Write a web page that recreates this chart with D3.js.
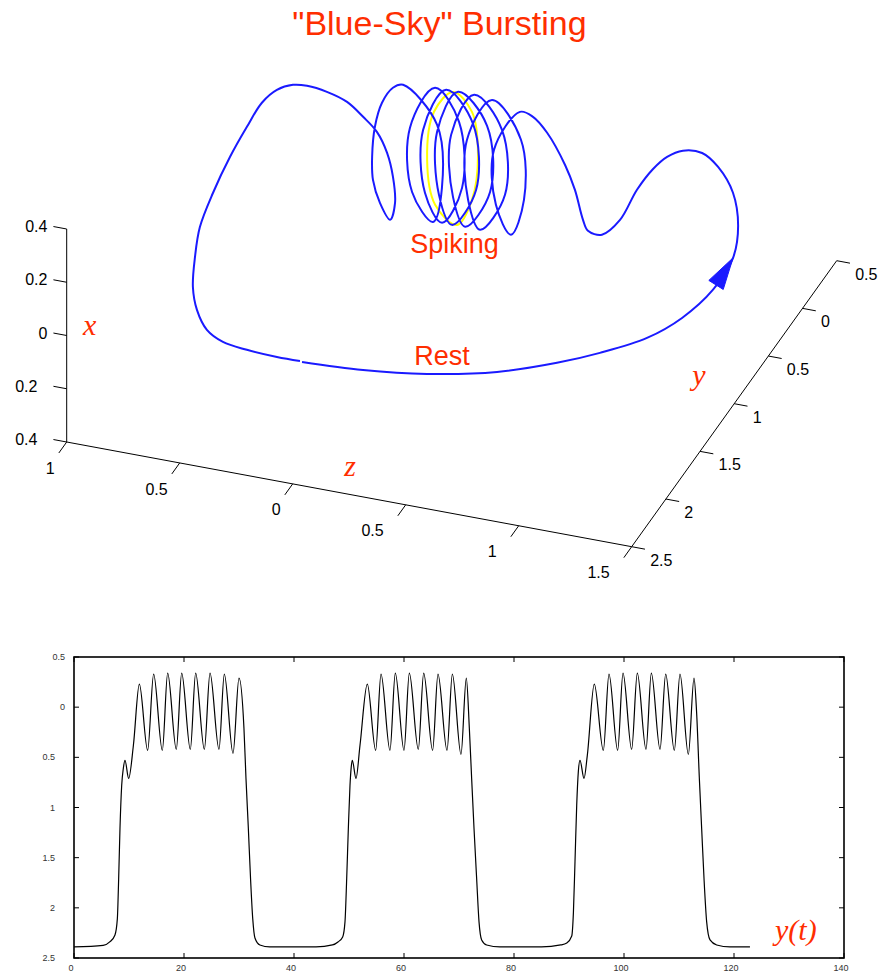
<!DOCTYPE html>
<html>
<head>
<meta charset="utf-8">
<script src="https://cdn.jsdelivr.net/npm/d3@7"></script>
<style>
  html, body { margin: 0; padding: 0; background: #fff; }
  svg { display: block; }
</style>
</head>
<body>
<svg id="chart" width="882" height="975"></svg>
<script>
// ---------------------------------------------------------------
// Data
// ---------------------------------------------------------------
const titleText = '"Blue-Sky" Bursting';

// One full burst cycle of the orbit in phase space, [x, y, z]
const orbit = [
  // quiescent branch, slow drift
  [0.020, -2.39, -0.008],
  [0.032, -2.39, -0.278],
  [0.062, -2.39, -0.561],
  [0.118, -2.39, -0.871],
  [0.190, -2.38, -1.133],
  [0.241, -2.34, -1.311],
  [0.273, -2.20, -1.477],
  // jump towards the spiking region
  [0.190, -1.75, -1.496],
  [0.135, -1.30, -1.497],
  [0.147, -1.00, -1.495],
  [0.210, -0.85, -1.472],
  [0.290, -0.75, -1.419],
  [0.336, -0.65, -1.323],
  [0.349, -0.58, -1.231],
  [0.324, -0.53, -1.131],
  [0.298, -0.55, -1.067],
  [0.263, -0.60, -1.020],
  [0.194, -0.65, -0.964],
  [0.089, -0.70, -0.904],
  [0.025, -0.71, -0.827],
  [0.018, -0.68, -0.756],
  [0.023, -0.60, -0.710],
  [0.069, -0.45, -0.629],
  [0.095, -0.30, -0.540],
  [0.102, -0.05, -0.385],
  [0.071, 0.15, -0.262],
  // spiking turns
  [0.048, 0.23, -0.180],
  [-0.019, 0.00, -0.135],
  [-0.103, -0.30, -0.234],
  [-0.156, -0.42, -0.337],
  [-0.085, -0.25, -0.343],
  [0.017, 0.05, -0.239],
  [0.033, 0.33, -0.026],
  [-0.001, 0.00, -0.015],
  [-0.104, -0.30, -0.111],
  [-0.159, -0.42, -0.200],
  [-0.079, -0.25, -0.259],
  [0.041, 0.05, -0.155],
  [0.040, 0.33, 0.053],
  [0.007, 0.00, 0.055],
  [-0.103, -0.30, -0.044],
  [-0.158, -0.42, -0.134],
  [-0.079, -0.25, -0.193],
  [0.046, 0.05, -0.089],
  [0.040, 0.33, 0.124],
  [0.009, 0.00, 0.117],
  [-0.105, -0.30, 0.018],
  [-0.160, -0.42, -0.076],
  [-0.081, -0.25, -0.131],
  [0.043, 0.05, -0.027],
  [0.039, 0.33, 0.177],
  [0.006, 0.00, 0.179],
  [-0.107, -0.30, 0.080],
  [-0.159, -0.42, -0.032],
  [-0.083, -0.25, -0.069],
  [0.041, 0.05, 0.035],
  [0.039, 0.33, 0.226],
  [0.005, 0.00, 0.237],
  [-0.113, -0.30, 0.137],
  [-0.150, -0.45, -0.001],
  [-0.097, -0.25, 0.020],
  [0.015, 0.05, 0.132],
  [0.044, 0.29, 0.355],
  [0.042, 0.25, 0.388],
  [0.039, 0.10, 0.391],
  [0.005, -0.05, 0.377],
  [-0.050, -0.20, 0.344],
  [-0.095, -0.30, 0.310],
  [-0.144, -0.38, 0.255],
  [-0.172, -0.45, 0.189],
  // fall back to the quiescent branch
  [-0.085, -0.50, 0.152],
  [0.020, -0.52, 0.155],
  [0.118, -0.55, 0.172],
  [0.202, -0.58, 0.208],
  [0.257, -0.60, 0.263],
  [0.314, -0.63, 0.325],
  [0.350, -0.66, 0.405],
  [0.375, -0.70, 0.481],
  [0.385, -0.74, 0.531],
  [0.379, -0.80, 0.584],
  [0.361, -0.90, 0.620],
  [0.321, -1.05, 0.641],
  [0.298, -1.30, 0.640],
  [0.272, -1.60, 0.625],
  [0.277, -1.95, 0.577],
  [0.263, -2.20, 0.523],
  [0.201, -2.33, 0.493],
  [0.134, -2.37, 0.463],
  [0.070, -2.38, 0.416],
  [0.040, -2.39, 0.342],
  [0.027, -2.39, 0.236],
  [0.021, -2.39, 0.103],
  [0.022, -2.39, 0.001]
];

// Saddle periodic orbit inside the spiking region, [x, y, z]
const spikingCycle = [
  [0.048, 0.30, 0.137],
  [0.047, 0.15, 0.008],
  [-0.029, -0.05, -0.079],
  [-0.101, -0.30, -0.128],
  [-0.157, -0.42, -0.098],
  [-0.145, -0.30, 0.035],
  [-0.083, -0.05, 0.146],
  [0.021, 0.15, 0.176]
];

// 3D box ranges and ticks
const xRange3d = [-0.4, 0.4];
const yRange3d = [-2.5, 0.5];
const zRange3d = [1, -1.5];
const xTicks3d = [0.4, 0.2, 0, -0.2, -0.4];
const xTickLabels3d = ["0.4", "0.2", "0", "0.2", "0.4"];
const zTicks3d = [1, 0.5, 0, -0.5, -1, -1.5];
const zTickLabels3d = ["1", "0.5", "0", "0.5", "1", "1.5"];
const yTicks3d = [0.5, 0, -0.5, -1, -1.5, -2, -2.5];
const yTickLabels3d = ["0.5", "0", "0.5", "1", "1.5", "2", "2.5"];

// Time series y(t): three bursts, [t, y]
const burst1 = [
  [0, -2.39], [5.3, -2.375], [6.5, -2.34], [7.45, -2.27], [7.88, -2.11],
  [8.12, -1.71], [8.36, -1.21], [8.67, -0.78], [8.97, -0.61], [9.27, -0.53],
  [9.94, -0.71], [10.8, -0.38], [11.88, 0.23], [13.39, -0.43], [14.48, 0.33],
  [16.06, -0.43], [17.03, 0.34], [18.6, -0.42], [19.58, 0.34], [21.15, -0.42],
  [22.12, 0.34], [23.7, -0.42], [24.73, 0.34], [26.36, -0.42], [27.33, 0.33],
  [28.91, -0.46], [30.0, 0.29], [30.9, -0.21], [31.27, -0.71], [31.7, -1.21],
  [32.1, -1.71], [32.5, -2.11], [32.9, -2.30], [33.8, -2.37], [35.6, -2.39]
];
const burst2 = [
  [44, -2.39], [47.0, -2.37], [48.0, -2.34], [48.85, -2.29], [49.27, -2.14],
  [49.58, -1.71], [49.88, -1.21], [50.18, -0.78], [50.4, -0.60], [50.6, -0.53],
  [51.27, -0.71], [52.0, -0.38], [53.33, 0.23], [54.85, -0.43], [55.82, 0.33],
  [57.45, -0.43], [58.42, 0.34], [60.0, -0.43], [60.97, 0.34], [62.6, -0.42],
  [63.58, 0.34], [65.2, -0.43], [66.18, 0.33], [67.82, -0.43], [68.79, 0.33],
  [70.36, -0.47], [71.33, 0.29], [71.88, -0.21], [72.3, -0.71], [72.73, -1.21],
  [73.21, -1.71], [73.64, -2.14], [74.12, -2.32], [75.03, -2.37], [77.45, -2.39]
];
const burst3 = [
  [85, -2.39], [88.5, -2.37], [89.6, -2.35], [90.5, -2.28], [90.8, -2.05],
  [91.09, -1.54], [91.4, -0.98], [91.7, -0.64], [92.0, -0.53], [92.73, -0.71],
  [93.33, -0.48], [94.6, 0.23], [96.24, -0.43], [97.27, 0.33], [98.85, -0.43],
  [99.82, 0.34], [101.39, -0.42], [102.42, 0.34], [104.0, -0.42], [104.97, 0.34],
  [106.55, -0.42], [107.58, 0.33], [109.15, -0.43], [110.18, 0.33], [111.7, -0.47],
  [112.73, 0.29], [113.2, -0.05], [113.7, -0.71], [114.12, -1.21], [114.55, -1.71],
  [115.03, -2.14], [115.64, -2.32], [116.85, -2.37], [119.27, -2.39], [122.9, -2.39]
];

const tDomain = [0, 140];
const yDomain = [-2.5, 0.5];
const tTicks = [0, 20, 40, 60, 80, 100, 120, 140];
const tTickLabels = ["0", "20", "40", "60", "80", "100", "120", "140"];
const yTicks = [0.5, 0, -0.5, -1, -1.5, -2, -2.5];
const yTickLabels = ["0.5", "0", "0.5", "1", "1.5", "2", "2.5"];

// ---------------------------------------------------------------
// Styles
// ---------------------------------------------------------------
const RED = "#ff2e00";
const BLUE = "#1a1aff";
const SANS = "'Liberation Sans', Arial, Helvetica, sans-serif";
const SERIF = "'Liberation Serif', 'Times New Roman', serif";

const svg = d3.select("#chart");

svg.append("text")
  .attr("x", 439.5).attr("y", 35)
  .attr("text-anchor", "middle")
  .attr("font-family", SANS).attr("font-size", 34)
  .attr("fill", RED)
  .text(titleText);

// ---------------------------------------------------------------
// 3D phase portrait (oblique projection of the axis box)
// ---------------------------------------------------------------
const corner = [66.7, 442];            // screen point of (xmin, ymin, zmax)
const edgeX = [0, -213];               // screen vector along x box edge
const edgeY = [205, -286];             // along y box edge
const edgeZ = [565, 104.7];            // along z box edge

const fx = d3.scaleLinear().domain(xRange3d).range([0, 1]);
const fy = d3.scaleLinear().domain(yRange3d).range([0, 1]);
const fz = d3.scaleLinear().domain(zRange3d).range([0, 1]);

function project(p) {
  const a = fx(p[0]), b = fy(p[1]), c = fz(p[2]);
  return [
    corner[0] + a * edgeX[0] + b * edgeY[0] + c * edgeZ[0],
    corner[1] + a * edgeX[1] + b * edgeY[1] + c * edgeZ[1]
  ];
}
function unit(v) { const l = Math.hypot(v[0], v[1]); return [v[0] / l, v[1] / l]; }

const g3 = svg.append("g");
const xMin = xRange3d[0], yMin = yRange3d[0], yMax = yRange3d[1];
const zNear = zRange3d[0], zFar = zRange3d[1];

const axisLines = [
  [[xMin, yMin, zNear], [xRange3d[1], yMin, zNear]],   // x axis
  [[xMin, yMin, zNear], [xMin, yMin, zFar]],           // z axis
  [[xMin, yMin, zFar], [xMin, yMax, zFar]]             // y axis
];
axisLines.forEach(([a, b]) => {
  const p = project(a), q = project(b);
  g3.append("line")
    .attr("x1", p[0]).attr("y1", p[1]).attr("x2", q[0]).attr("y2", q[1])
    .attr("stroke", "#000").attr("stroke-width", 1);
});

const TICK3 = 13.5;
const dirPlusZ = unit([-edgeZ[0], -edgeZ[1]]);
const dirMinusZ = unit(edgeZ);
const dirMinusY = unit([-edgeY[0], -edgeY[1]]);

function drawTick(p, dir) {
  g3.append("line")
    .attr("x1", p[0]).attr("y1", p[1])
    .attr("x2", p[0] + dir[0] * TICK3).attr("y2", p[1] + dir[1] * TICK3)
    .attr("stroke", "#000").attr("stroke-width", 1);
}
function tickLabel(x, y, anchor, txt) {
  g3.append("text")
    .attr("x", x).attr("y", y).attr("dy", "0.35em")
    .attr("text-anchor", anchor)
    .attr("font-family", SANS).attr("font-size", 16)
    .attr("fill", "#000")
    .text(txt);
}

// x ticks (vertical axis on the left)
xTicks3d.forEach((v, i) => {
  const p = project([v, yMin, zNear]);
  drawTick(p, dirPlusZ);
  const e = [p[0] + dirPlusZ[0] * TICK3, p[1] + dirPlusZ[1] * TICK3];
  tickLabel(e[0] - 6 - (v < 0 ? 10 : 0), e[1], "end", xTickLabels3d[i]);
});

// z ticks (front edge)
zTicks3d.forEach((v, i) => {
  const p = project([xMin, yMin, v]);
  drawTick(p, dirMinusY);
  tickLabel(p[0] - 12 - (v < 0 ? 10 : 0), p[1] + 26, "end", zTickLabels3d[i]);
});

// y ticks (receding edge on the right)
yTicks3d.forEach((v, i) => {
  const p = project([xMin, v, zFar]);
  drawTick(p, dirMinusZ);
  tickLabel(p[0] + 18.5, p[1] + 13.5, "start", yTickLabels3d[i]);
});

// axis names
const axisName = (x, y, txt) => g3.append("text")
  .attr("x", x).attr("y", y).attr("text-anchor", "middle")
  .attr("font-family", SERIF).attr("font-style", "italic")
  .attr("font-size", 30).attr("fill", RED).text(txt);
axisName(89.7, 335, "x");
axisName(699, 385, "y");
axisName(350, 476, "z");

// orbit curves
const line3d = d3.line()
  .x(d => project(d)[0]).y(d => project(d)[1])
  .curve(d3.curveCatmullRom.alpha(0.5));
const loop3d = d3.line()
  .x(d => project(d)[0]).y(d => project(d)[1])
  .curve(d3.curveCatmullRomClosed.alpha(0.5));

g3.append("path")
  .attr("d", loop3d(spikingCycle))
  .attr("fill", "none").attr("stroke", "#ffff00").attr("stroke-width", 2);

g3.append("path")
  .attr("d", line3d(orbit))
  .attr("fill", "none").attr("stroke", BLUE).attr("stroke-width", 2)
  .attr("stroke-linejoin", "round");

// direction arrow on the rising branch
(function () {
  const tip = project(orbit[9]);
  const prev = project(orbit[8]);
  const d = unit([tip[0] - prev[0], tip[1] - prev[1]]);
  const n = [-d[1], d[0]];
  const len = 32, half = 8.5;
  const b = [tip[0] - d[0] * len, tip[1] - d[1] * len];
  const pts = [tip, [b[0] + n[0] * half, b[1] + n[1] * half], [b[0] - n[0] * half, b[1] - n[1] * half]];
  g3.append("polygon")
    .attr("points", pts.map(p => p.join(",")).join(" "))
    .attr("fill", BLUE).attr("stroke", BLUE).attr("stroke-width", 1);
})();

// region annotations
const note = (x, y, txt) => g3.append("text")
  .attr("x", x).attr("y", y).attr("text-anchor", "middle")
  .attr("font-family", SANS).attr("font-size", 27)
  .attr("fill", RED).text(txt);
note(454.5, 252.5, "Spiking");
note(442, 365, "Rest");

// ---------------------------------------------------------------
// Time series y(t)
// ---------------------------------------------------------------
const frame = { left: 74, right: 844, top: 657, bottom: 958 };
const tScale = d3.scaleLinear().domain(tDomain).range([frame.left, frame.right]);
const yScale = d3.scaleLinear().domain(yDomain).range([frame.bottom, frame.top]);
const g2 = svg.append("g");

const series = burst1.concat(burst2, burst3);
const lineT = d3.line()
  .x(d => tScale(d[0])).y(d => yScale(d[1]))
  .curve(d3.curveMonotoneX);

g2.append("path")
  .attr("d", lineT(series))
  .attr("fill", "none").attr("stroke", "#000").attr("stroke-width", 1.2);

const TICK2 = 5;
tTicks.forEach((t, i) => {
  const x = tScale(t);
  g2.append("line").attr("x1", x).attr("x2", x)
    .attr("y1", frame.bottom).attr("y2", frame.bottom - TICK2)
    .attr("stroke", "#000").attr("stroke-width", 1);
  g2.append("line").attr("x1", x).attr("x2", x)
    .attr("y1", frame.top).attr("y2", frame.top + TICK2)
    .attr("stroke", "#000").attr("stroke-width", 1);
  g2.append("text")
    .attr("x", x - 3).attr("y", 967.5).attr("dy", "0.35em")
    .attr("text-anchor", "middle")
    .attr("font-family", SANS).attr("font-size", 9).attr("fill", "#333")
    .text(tTickLabels[i]);
});

yTicks.forEach((v, i) => {
  const y = yScale(v);
  g2.append("line").attr("x1", frame.left).attr("x2", frame.left + TICK2)
    .attr("y1", y).attr("y2", y)
    .attr("stroke", "#000").attr("stroke-width", 1);
  g2.append("line").attr("x1", frame.right).attr("x2", frame.right - TICK2)
    .attr("y1", y).attr("y2", y)
    .attr("stroke", "#000").attr("stroke-width", 1);
  g2.append("text")
    .attr("x", v < 0 ? 55 : 65).attr("y", y).attr("dy", "0.35em")
    .attr("text-anchor", "end")
    .attr("font-family", SANS).attr("font-size", 9).attr("fill", "#333")
    .text(yTickLabels[i]);
});

g2.append("rect")
  .attr("x", frame.left).attr("y", frame.top)
  .attr("width", frame.right - frame.left).attr("height", frame.bottom - frame.top)
  .attr("fill", "none").attr("stroke", "#000").attr("stroke-width", 1.6);

g2.append("text")
  .attr("x", 775).attr("y", 940)
  .attr("font-family", SERIF).attr("font-style", "italic")
  .attr("font-size", 30).attr("fill", RED)
  .text("y(t)");
</script>
</body>
</html>
